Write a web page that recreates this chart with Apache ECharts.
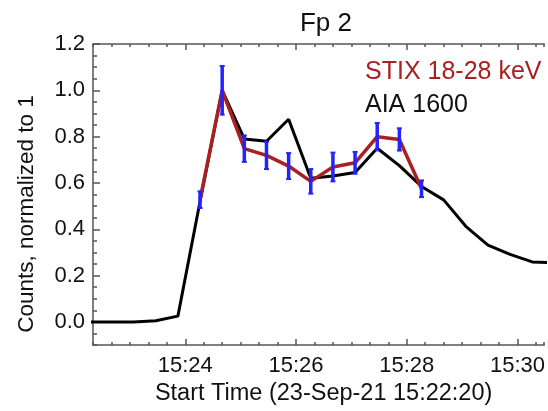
<!DOCTYPE html>
<html>
<head>
<meta charset="utf-8">
<script src="https://cdn.jsdelivr.net/npm/echarts@6/dist/echarts.min.js"></script>
<style>
  html, body { margin: 0; padding: 0; background: #fff; }
  #chart { width: 548px; height: 411px; }
</style>
</head>
<body>
<div id="chart"></div>
<script>
// start of the x axis: 23-Sep-21 15:22:20, times below are seconds after it
const startTime = '15:22:20'
const xTickLabels = ['15:24', '15:26', '15:28', '15:30']
const yTickValues = [0.0, 0.2, 0.4, 0.6, 0.8, 1.0, 1.2]

const aiaTimes = [-4, 20, 44, 68, 92, 116, 140, 164, 188, 212, 236, 260, 284, 308, 332, 356, 380, 404, 428, 452, 476, 500]
const aiaCounts = [0, 0, 0, 0.005, 0.025, 0.52, 1.0, 0.79, 0.78, 0.875, 0.62, 0.63, 0.645, 0.75, 0.675, 0.585, 0.527, 0.413, 0.332, 0.292, 0.259, 0.255]

const stixTimes = [116, 140, 164, 188, 212, 236, 260, 284, 308, 332, 356]
const stixCounts = [0.528, 1.0, 0.748, 0.719, 0.673, 0.607, 0.669, 0.687, 0.8, 0.788, 0.575]
const stixErrors = [0.036, 0.105, 0.057, 0.059, 0.056, 0.053, 0.062, 0.047, 0.059, 0.048, 0.036]

const stixName = 'STIX 18-28 keV'
const aiaName = 'AIA 1600'
const yTitle = 'Counts, normalized to 1'

const font = "'Liberation Sans', Arial, Helvetica, sans-serif"
const axisGray = '#555'
const stixRed = '#a8201f'
const errBlue = '#2323ff'

const toSec = (s) => {
  const p = s.split(':').map(Number)
  return p[0] * 3600 + p[1] * 60 + (p[2] || 0)
}
const t0 = toSec(startTime)
const xMajor = xTickLabels.map(l => toSec(l) - t0)
const fmtX = (v) => {
  const tot = t0 + v
  const h = Math.floor(tot / 3600)
  const m = Math.floor((tot % 3600) / 60)
  return h + ':' + String(m).padStart(2, '0')
}

const chart = echarts.init(document.getElementById('chart'))

// the plot runs off the right edge of the picture, so the visible part ends near 15:30:29
const xAx = (extra) => Object.assign({ type: 'value', min: 0, max: 489, splitLine: { show: false } }, extra)
const yAx = (extra) => Object.assign({ type: 'value', min: -0.1, max: 1.2, splitLine: { show: false } }, extra)
const line = (show) => ({ show: show, onZero: false, lineStyle: { color: axisGray, width: 1.5 } })
const tick = (len, values) => {
  const t = { show: true, inside: true, length: len, lineStyle: { color: axisGray, width: 1.5 } }
  if (values) t.customValues = values
  return t
}

const errorBar = (params, api) => {
  const x = api.value(0)
  const y = api.value(1)
  const e = api.value(2)
  const top = api.coord([x, y + e])
  const bot = api.coord([x, y - e])
  return {
    type: 'group',
    children: [
      { type: 'line', shape: { x1: top[0], y1: top[1], x2: bot[0], y2: bot[1] }, style: { stroke: errBlue, lineWidth: 3.5 } },
      { type: 'line', shape: { x1: top[0] - 2.5, y1: top[1], x2: top[0] + 2.5, y2: top[1] }, style: { stroke: errBlue, lineWidth: 2 } },
      { type: 'line', shape: { x1: bot[0] - 2.5, y1: bot[1], x2: bot[0] + 2.5, y2: bot[1] }, style: { stroke: errBlue, lineWidth: 2 } }
    ]
  }
}

const option = {
  animation: false,
  grid: { left: 93, right: 0, top: 44, bottom: 61 },
  graphic: [
    { type: 'text', x: 326, y: 24, style: { text: 'Fp 2', font: '26px ' + font, fill: '#111', textAlign: 'center', textVerticalAlign: 'middle' } },
    { type: 'text', x: 365, y: 72, style: { text: stixName, font: '25px ' + font, fill: stixRed, textVerticalAlign: 'middle' } },
    { type: 'text', x: 365, y: 105, style: { text: aiaName, font: '25px ' + font, fill: '#111', textVerticalAlign: 'middle' } },
    { type: 'text', x: 27, y: 214, rotation: Math.PI / 2, style: { text: yTitle, font: '22.5px ' + font, fill: '#111', textAlign: 'center', textVerticalAlign: 'middle' } }
  ],
  xAxis: [
    xAx({
      position: 'bottom',
      name: 'Start Time (23-Sep-' + '21 ' + startTime + ')',
      nameLocation: 'middle',
      nameGap: 34,
      nameTextStyle: { fontSize: 23.5, color: '#111', fontFamily: font, padding: [0, 0, 0, 10] },
      axisLine: line(true),
      axisTick: tick(6, xMajor),
      axisLabel: { show: true, customValues: xMajor, formatter: fmtX, margin: 10, fontSize: 22, color: '#111', fontFamily: font }
    }),
    xAx({ position: 'bottom', interval: 20, axisLine: line(false), axisTick: tick(3), axisLabel: { show: false } }),
    xAx({ position: 'top', axisLine: line(true), axisTick: tick(6, xMajor), axisLabel: { show: false } }),
    xAx({ position: 'top', interval: 20, axisLine: line(false), axisTick: tick(3), axisLabel: { show: false } })
  ],
  yAxis: [
    yAx({
      position: 'left',
      axisLine: line(true),
      axisTick: tick(7, yTickValues),
      axisLabel: { show: true, customValues: yTickValues, formatter: v => v.toFixed(1), margin: 8, fontSize: 22, color: '#111', fontFamily: font }
    }),
    yAx({ position: 'left', interval: 0.05, axisLine: line(false), axisTick: tick(4), axisLabel: { show: false } })
  ],
  series: [
    {
      name: aiaName,
      type: 'line',
      xAxisIndex: 0, yAxisIndex: 0,
      data: aiaTimes.map((t, i) => [t, aiaCounts[i]]),
      showSymbol: false,
      lineStyle: { color: '#000', width: 3 },
      z: 2
    },
    {
      name: stixName,
      type: 'line',
      xAxisIndex: 0, yAxisIndex: 0,
      data: stixTimes.map((t, i) => [t, stixCounts[i]]),
      showSymbol: false,
      lineStyle: { color: stixRed, width: 3.5 },
      z: 3
    },
    {
      name: 'STIX error',
      type: 'custom',
      xAxisIndex: 0, yAxisIndex: 0,
      renderItem: errorBar,
      encode: { x: 0, y: 1 },
      data: stixTimes.map((t, i) => [t, stixCounts[i], stixErrors[i]]),
      z: 4
    }
  ]
}

chart.setOption(option)
</script>
</body>
</html>
